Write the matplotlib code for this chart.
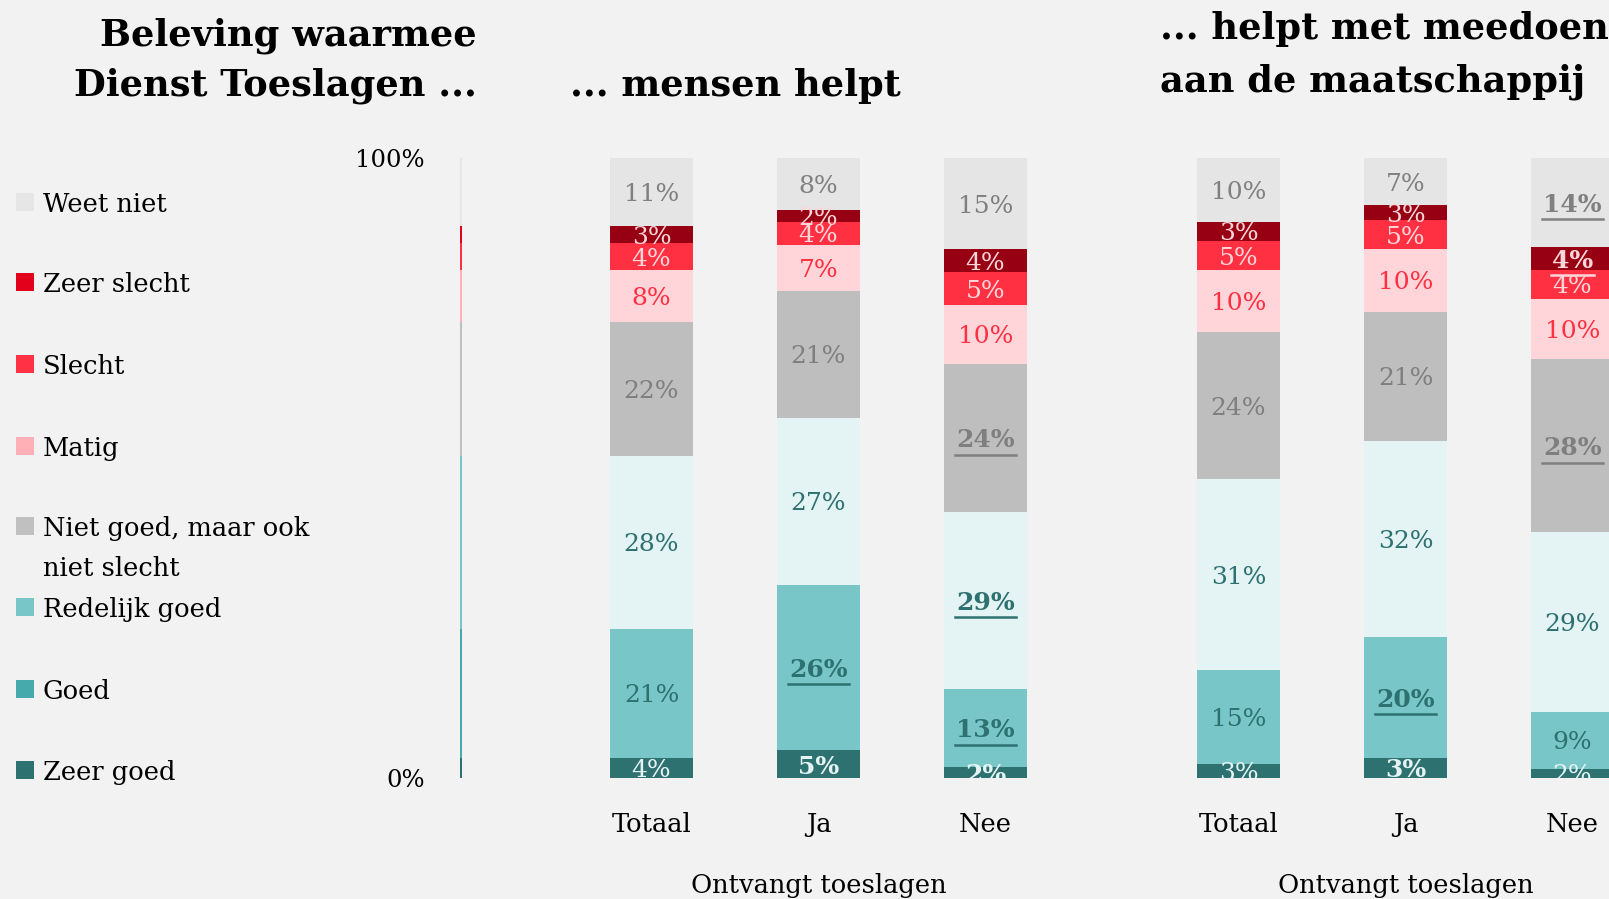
import matplotlib
matplotlib.use("Agg")
import matplotlib.pyplot as plt
from matplotlib.patches import Rectangle
from matplotlib.lines import Line2D

# ---------------- data ----------------
levels = ["Zeer goed", "Goed", "Redelijk goed", "Niet goed, maar ook niet slecht",
          "Matig", "Slecht", "Zeer slecht", "Weet niet"]          # bottom -> top
groups = ["Totaal", "Ja", "Nee"]
group_title = "Ontvangt toeslagen"

# panel 1: "... mensen helpt"
p1_totaal = [3.3, 20.8, 27.9, 21.6, 8.3, 4.4, 2.7, 11.0]
p1_ja     = [4.5, 26.7, 26.9, 20.5, 7.4, 3.7, 1.9, 8.4]
p1_nee    = [1.8, 12.6, 28.5, 23.9, 9.5, 5.3, 3.7, 14.7]
p1_totaal_lbl = ["4%", "21%", "28%", "22%", "8%", "4%", "3%", "11%"]
p1_ja_lbl     = ["5%", "26%", "27%", "21%", "7%", "4%", "2%", "8%"]
p1_nee_lbl    = ["2%", "13%", "29%", "24%", "10%", "5%", "4%", "15%"]
# '' normal, 'b' bold, 'u' bold + underline (significant difference)
p1_totaal_hl = ["", "", "", "", "", "", "", ""]
p1_ja_hl     = ["b", "u", "", "", "", "", "", ""]
p1_nee_hl    = ["b", "u", "u", "u", "", "", "", ""]

# panel 2: "... helpt met meedoen aan de maatschappij"
p2_totaal = [2.3, 15.1, 30.8, 23.7, 10.0, 4.7, 3.1, 10.3]
p2_ja     = [3.3, 19.5, 31.6, 20.8, 10.1, 4.7, 2.4, 7.6]
p2_nee    = [1.5, 9.2, 28.9, 27.9, 9.8, 4.7, 3.7, 14.3]
p2_totaal_lbl = ["3%", "15%", "31%", "24%", "10%", "5%", "3%", "10%"]
p2_ja_lbl     = ["3%", "20%", "32%", "21%", "10%", "5%", "3%", "7%"]
p2_nee_lbl    = ["2%", "9%", "29%", "28%", "10%", "4%", "4%", "14%"]
p2_totaal_hl = ["", "", "", "", "", "", "", ""]
p2_ja_hl     = ["b", "u", "", "", "", "", "", ""]
p2_nee_hl    = ["", "", "", "u", "", "", "u", "u"]

title_left = ["Beleving waarmee", "Dienst Toeslagen ..."]
title_p1 = "... mensen helpt"
title_p2 = ["... helpt met meedoen", "aan de maatschappij"]

# ---------------- style ----------------
legend_colors = ["#2E7171", "#46A9AB", "#78C6C7", "#C0C0C0",
                 "#FFB0B7", "#FF3245", "#E3001B", "#E6E6E6"]
bar_colors = ["#2E7171", "#78C6C7", "#E4F3F3", "#BEBEBE",
              "#FFD5D9", "#FF3042", "#960012", "#E5E5E5"]
label_colors = ["#E4F3F3", "#2E7171", "#2E7171", "#7F7F7F",
                "#FF3042", "#FFD5D9", "#FFD5D9", "#808080"]
BG = "#F2F2F2"
FONT = "DejaVu Serif"
plt.rcParams["font.family"] = [FONT, "DejaVu Sans"]

W, H, DPI = 1609, 899, 100
fig = plt.figure(figsize=(W / DPI, H / DPI), dpi=DPI, facecolor=BG)

def fx(px):
    return px / W

def fy(py):
    return 1 - py / H

AX_TOP, AX_BOT = 158, 778
UNIT = 167.0  # pixels per category step
BAR_W = 0.497

def make_panel(center0_px):
    left = center0_px - 0.6 * UNIT
    right = center0_px + 2.6 * UNIT
    ax = fig.add_axes([fx(left), fy(AX_BOT), (right - left) / W, (AX_BOT - AX_TOP) / H])
    ax.set_xlim(-0.6, 2.6)
    ax.set_ylim(0, 100)
    ax.set_facecolor("none")
    ax.axis("off")
    return ax

ax1 = make_panel(651.5)
ax2 = make_panel(1238.5)

underlined = []

def draw_panel(ax, series, labels, hls):
    for gi, (vals, lbls, hl) in enumerate(zip(series, labels, hls)):
        bottom = 0.0
        for li, v in enumerate(vals):
            ax.bar(gi, v, width=BAR_W, bottom=bottom, color=bar_colors[li],
                   linewidth=0, zorder=2)
            t = ax.text(gi, bottom + v / 2, lbls[li], ha="center", va="center_baseline",
                        fontsize=18, color=label_colors[li],
                        fontweight="bold" if hl[li] else "normal",
                        clip_on=True, zorder=3)
            if hl[li] == "u":
                underlined.append((ax, t, label_colors[li]))
            bottom += v
    tr = ax.get_xaxis_transform()
    for gi, g in enumerate(groups):
        ax.text(gi, (AX_BOT - 832) / (AX_BOT - AX_TOP), g, transform=tr,
                ha="center", va="baseline", fontsize=18.5, color="#000000")
    ax.text(1, (AX_BOT - 893) / (AX_BOT - AX_TOP), group_title, transform=tr,
            ha="center", va="baseline", fontsize=18.5, color="#000000")

draw_panel(ax1, [p1_totaal, p1_ja, p1_nee],
           [p1_totaal_lbl, p1_ja_lbl, p1_nee_lbl],
           [p1_totaal_hl, p1_ja_hl, p1_nee_hl])
draw_panel(ax2, [p2_totaal, p2_ja, p2_nee],
           [p2_totaal_lbl, p2_ja_lbl, p2_nee_lbl],
           [p2_totaal_hl, p2_ja_hl, p2_nee_hl])

# thin reference bar with legend colours and the 0% / 100% axis
ax0 = fig.add_axes([fx(459.7), fy(AX_BOT), 2.0 / W, (AX_BOT - AX_TOP) / H])
ax0.set_xlim(-0.5, 0.5)
ax0.set_ylim(0, 100)
ax0.set_facecolor("none")
b = 0.0
for li, v in enumerate(p1_totaal):
    ax0.bar(0, v, width=1.0, bottom=b, color=legend_colors[li], linewidth=0)
    b += v
for s in ax0.spines.values():
    s.set_visible(False)
ax0.set_xticks([])
ax0.set_yticks([0, 100])
ax0.set_yticklabels(["0%", "100%"], fontsize=17.5)
ax0.tick_params(axis="y", length=0, pad=25)

# legend (top to bottom)
leg_centers = [202, 282, 364, 446, 526, 607, 689, 770]
for i, c in enumerate(leg_centers):
    li = len(levels) - 1 - i
    fig.add_artist(Rectangle((fx(16), fy(c + 9)), 18 / W, 18 / H,
                             transform=fig.transFigure, facecolor=legend_colors[li],
                             edgecolor="none"))
    name = levels[li]
    if name.startswith("Niet goed"):
        fig.text(fx(42.7), fy(c + 10), "Niet goed, maar ook", fontsize=18.5,
                 ha="left", va="baseline")
        fig.text(fx(42.7), fy(c + 50), "niet slecht", fontsize=18.5,
                 ha="left", va="baseline")
    else:
        fig.text(fx(42.7), fy(c + 10), name, fontsize=18.5, ha="left", va="baseline")

# titles
fig.text(fx(477), fy(46), title_left[0], fontsize=26.5, fontweight="bold",
         ha="right", va="baseline")
fig.text(fx(477), fy(95), title_left[1], fontsize=26.5, fontweight="bold",
         ha="right", va="baseline")
fig.text(fx(570), fy(96), title_p1, fontsize=26.5, fontweight="bold",
         ha="left", va="baseline")
fig.text(fx(1160), fy(39), title_p2[0], fontsize=26.5, fontweight="bold",
         ha="left", va="baseline")
fig.text(fx(1160), fy(91), title_p2[1], fontsize=26.5, fontweight="bold",
         ha="left", va="baseline")

# underlines for highlighted labels
fig.canvas.draw()
renderer = fig.canvas.get_renderer()
for ax, t, col in underlined:
    bb = t.get_window_extent(renderer)
    _, _, d = renderer.get_text_width_height_descent(
        t.get_text(), t.get_fontproperties(), ismath=False)
    base = bb.y0 + d
    yline = base - 2.5
    x0, x1 = bb.x0 - 1, bb.x1 + 1
    inv = ax.transData.inverted()
    (dx0, dy), (dx1, _) = inv.transform([(x0, yline), (x1, yline)])
    ax.add_line(Line2D([dx0, dx1], [dy, dy], color=col, linewidth=1.8,
                       zorder=4, clip_on=True))

fig.savefig("out.png", dpi=DPI, facecolor=BG)
